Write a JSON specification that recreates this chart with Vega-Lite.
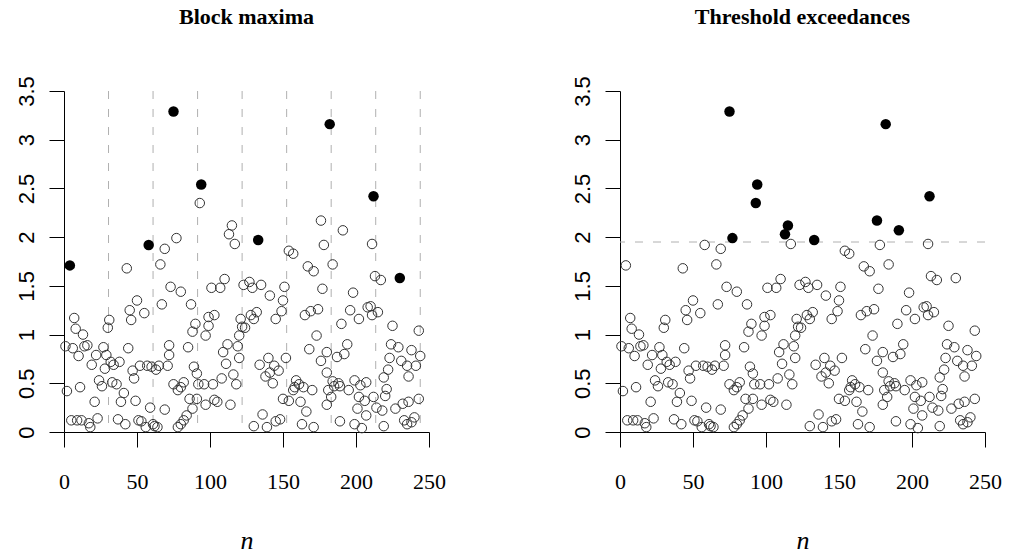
{
"$schema": "https://vega.github.io/schema/vega-lite/v6.json",
"padding": {"left": 15, "top": 5, "right": 5, "bottom": 5},
"datasets": {
"pts": [
{"n":1,"v":0.88,"bm":0},{"n":2,"v":0.42,"bm":0},{"n":4,"v":1.71,"bm":1},{"n":5,"v":0.12,"bm":0},{"n":6,"v":0.86,"bm":0},{"n":7,"v":1.17,"bm":0},{"n":8,"v":1.06,"bm":0},{"n":9,"v":0.12,"bm":0},{"n":10,"v":0.78,"bm":0},{"n":11,"v":0.46,"bm":0},{"n":12,"v":0.12,"bm":0},{"n":13,"v":1.0,"bm":0},{"n":14,"v":0.88,"bm":0},{"n":16,"v":0.89,"bm":0},{"n":17,"v":0.09,"bm":0},{"n":18,"v":0.05,"bm":0},{"n":19,"v":0.69,"bm":0},{"n":21,"v":0.31,"bm":0},{"n":22,"v":0.79,"bm":0},{"n":23,"v":0.14,"bm":0},{"n":24,"v":0.53,"bm":0},{"n":26,"v":0.47,"bm":0},{"n":27,"v":0.87,"bm":0},{"n":28,"v":0.65,"bm":0},{"n":29,"v":0.79,"bm":0},{"n":30,"v":1.07,"bm":0},
{"n":31,"v":1.15,"bm":0},{"n":32,"v":0.72,"bm":0},{"n":33,"v":0.51,"bm":0},{"n":34,"v":0.69,"bm":0},{"n":36,"v":0.49,"bm":0},{"n":37,"v":0.13,"bm":0},{"n":38,"v":0.72,"bm":0},{"n":39,"v":0.31,"bm":0},{"n":41,"v":0.40,"bm":0},{"n":42,"v":0.08,"bm":0},{"n":43,"v":1.68,"bm":0},{"n":44,"v":0.86,"bm":0},{"n":45,"v":1.25,"bm":0},{"n":46,"v":1.15,"bm":0},{"n":47,"v":0.63,"bm":0},{"n":48,"v":0.55,"bm":0},{"n":49,"v":0.32,"bm":0},{"n":50,"v":1.35,"bm":0},{"n":51,"v":0.12,"bm":0},{"n":52,"v":0.68,"bm":0},{"n":53,"v":0.11,"bm":0},{"n":55,"v":1.22,"bm":0},{"n":56,"v":0.05,"bm":0},{"n":57,"v":0.68,"bm":0},{"n":58,"v":1.92,"bm":1},{"n":59,"v":0.25,"bm":0},{"n":60,"v":0.67,"bm":0},{"n":61,"v":0.08,"bm":0},
{"n":62,"v":0.06,"bm":0},{"n":63,"v":0.64,"bm":0},{"n":64,"v":0.05,"bm":0},{"n":65,"v":0.68,"bm":0},{"n":66,"v":1.72,"bm":0},{"n":67,"v":1.31,"bm":0},{"n":69,"v":1.88,"bm":0},{"n":69,"v":0.23,"bm":0},{"n":71,"v":0.68,"bm":0},{"n":72,"v":0.79,"bm":0},{"n":72,"v":0.89,"bm":0},{"n":73,"v":1.49,"bm":0},{"n":75,"v":3.29,"bm":1},{"n":75,"v":0.49,"bm":0},{"n":77,"v":1.99,"bm":0},{"n":78,"v":0.43,"bm":0},{"n":78,"v":0.05,"bm":0},{"n":80,"v":1.44,"bm":0},{"n":80,"v":0.46,"bm":0},{"n":80,"v":0.08,"bm":0},{"n":82,"v":0.51,"bm":0},{"n":82,"v":0.12,"bm":0},{"n":84,"v":0.17,"bm":0},{"n":85,"v":0.87,"bm":0},{"n":86,"v":0.34,"bm":0},{"n":87,"v":1.31,"bm":0},{"n":88,"v":1.03,"bm":0},{"n":88,"v":0.24,"bm":0},{"n":89,"v":0.67,"bm":0},{"n":90,"v":1.11,"bm":0},{"n":91,"v":0.6,"bm":0},{"n":91,"v":0.34,"bm":0},
{"n":92,"v":0.49,"bm":0},{"n":93,"v":2.35,"bm":0},{"n":94,"v":2.54,"bm":1},{"n":96,"v":0.49,"bm":0},{"n":97,"v":0.99,"bm":0},{"n":97,"v":0.28,"bm":0},{"n":99,"v":1.09,"bm":0},{"n":99,"v":1.18,"bm":0},{"n":101,"v":1.48,"bm":0},{"n":102,"v":0.49,"bm":0},{"n":103,"v":1.2,"bm":0},{"n":103,"v":0.33,"bm":0},{"n":105,"v":0.31,"bm":0},{"n":107,"v":1.48,"bm":0},{"n":108,"v":0.55,"bm":0},{"n":109,"v":0.82,"bm":0},{"n":110,"v":1.57,"bm":0},{"n":111,"v":0.70,"bm":0},{"n":112,"v":0.9,"bm":0},{"n":113,"v":2.03,"bm":0},{"n":114,"v":0.28,"bm":0},{"n":115,"v":2.12,"bm":0},{"n":116,"v":0.59,"bm":0},{"n":117,"v":1.93,"bm":0},{"n":118,"v":0.49,"bm":0},{"n":119,"v":0.88,"bm":0},{"n":120,"v":0.99,"bm":0},{"n":120,"v":0.76,"bm":0},{"n":121,"v":1.16,"bm":0},{"n":122,"v":1.08,"bm":0},
{"n":123,"v":1.51,"bm":0},{"n":124,"v":1.07,"bm":0},{"n":127,"v":1.54,"bm":0},{"n":128,"v":1.2,"bm":0},{"n":129,"v":1.48,"bm":0},{"n":130,"v":1.16,"bm":0},{"n":130,"v":0.06,"bm":0},{"n":132,"v":1.23,"bm":0},{"n":133,"v":1.97,"bm":1},{"n":134,"v":0.69,"bm":0},{"n":135,"v":1.51,"bm":0},{"n":136,"v":0.18,"bm":0},{"n":138,"v":0.57,"bm":0},{"n":139,"v":0.05,"bm":0},{"n":140,"v":0.76,"bm":0},{"n":141,"v":0.61,"bm":0},{"n":141,"v":1.40,"bm":0},{"n":143,"v":0.50,"bm":0},{"n":144,"v":0.68,"bm":0},{"n":145,"v":1.16,"bm":0},{"n":145,"v":0.11,"bm":0},{"n":147,"v":0.63,"bm":0},{"n":148,"v":0.13,"bm":0},{"n":149,"v":1.24,"bm":0},{"n":150,"v":1.35,"bm":0},{"n":150,"v":0.34,"bm":0},{"n":151,"v":1.49,"bm":0},{"n":152,"v":0.76,"bm":0},
{"n":154,"v":1.86,"bm":0},{"n":157,"v":1.83,"bm":0},{"n":154,"v":0.32,"bm":0},{"n":157,"v":0.43,"bm":0},{"n":158,"v":0.46,"bm":0},{"n":159,"v":0.53,"bm":0},{"n":161,"v":0.49,"bm":0},{"n":162,"v":0.31,"bm":0},{"n":163,"v":0.08,"bm":0},{"n":164,"v":0.46,"bm":0},{"n":165,"v":1.20,"bm":0},{"n":166,"v":0.21,"bm":0},{"n":167,"v":1.70,"bm":0},{"n":168,"v":0.85,"bm":0},{"n":169,"v":1.24,"bm":0},{"n":170,"v":0.43,"bm":0},{"n":171,"v":1.65,"bm":0},{"n":171,"v":0.05,"bm":0},{"n":173,"v":0.99,"bm":0},{"n":174,"v":1.26,"bm":0},{"n":176,"v":2.17,"bm":0},{"n":176,"v":0.73,"bm":0},{"n":177,"v":1.47,"bm":0},{"n":178,"v":1.92,"bm":0},{"n":180,"v":0.82,"bm":0},{"n":180,"v":0.61,"bm":0},{"n":180,"v":0.28,"bm":0},{"n":181,"v":0.43,"bm":0},{"n":182,"v":3.16,"bm":1},{"n":183,"v":0.36,"bm":0},
{"n":184,"v":1.72,"bm":0},{"n":184,"v":0.52,"bm":0},{"n":185,"v":0.47,"bm":0},{"n":187,"v":0.77,"bm":0},{"n":188,"v":0.5,"bm":0},{"n":189,"v":0.47,"bm":0},{"n":189,"v":0.11,"bm":0},{"n":190,"v":1.11,"bm":0},{"n":191,"v":2.07,"bm":0},{"n":192,"v":0.8,"bm":0},{"n":194,"v":0.9,"bm":0},{"n":195,"v":0.43,"bm":0},{"n":196,"v":1.25,"bm":0},{"n":198,"v":1.43,"bm":0},{"n":199,"v":0.53,"bm":0},{"n":199,"v":0.08,"bm":0},{"n":201,"v":0.24,"bm":0},{"n":202,"v":1.16,"bm":0},{"n":202,"v":0.36,"bm":0},{"n":203,"v":0.48,"bm":0},{"n":204,"v":0.04,"bm":0},{"n":206,"v":0.32,"bm":0},{"n":207,"v":0.51,"bm":0},{"n":207,"v":0.17,"bm":0},{"n":208,"v":1.28,"bm":0},{"n":210,"v":1.29,"bm":0},{"n":211,"v":1.93,"bm":0},{"n":211,"v":1.2,"bm":0},{"n":212,"v":2.42,"bm":1},{"n":212,"v":0.36,"bm":0},{"n":213,"v":1.60,"bm":0},
{"n":214,"v":0.25,"bm":0},{"n":215,"v":1.23,"bm":0},{"n":217,"v":1.56,"bm":0},{"n":218,"v":0.22,"bm":0},{"n":219,"v":0.56,"bm":0},{"n":219,"v":0.06,"bm":0},{"n":220,"v":0.37,"bm":0},{"n":221,"v":0.44,"bm":0},{"n":222,"v":0.64,"bm":0},{"n":223,"v":0.76,"bm":0},{"n":224,"v":0.9,"bm":0},{"n":225,"v":1.09,"bm":0},{"n":227,"v":0.24,"bm":0},{"n":229,"v":0.87,"bm":0},{"n":230,"v":1.58,"bm":1},{"n":231,"v":0.73,"bm":0},{"n":232,"v":0.29,"bm":0},{"n":233,"v":0.12,"bm":0},{"n":235,"v":0.68,"bm":0},{"n":235,"v":0.08,"bm":0},{"n":236,"v":0.57,"bm":0},{"n":236,"v":0.31,"bm":0},{"n":238,"v":0.84,"bm":0},{"n":238,"v":0.1,"bm":0},{"n":240,"v":0.15,"bm":0},{"n":241,"v":0.68,"bm":0},{"n":243,"v":1.04,"bm":0},{"n":243,"v":0.34,"bm":0},{"n":244,"v":0.78,"bm":0}
],
"blocks": [{"b":30.5},{"b":61},{"b":91.5},{"b":122},{"b":152.5},{"b":183},{"b":213.5},{"b":244}],
"thr": [{"u":1.95}]
},
"spacing": 191,
"bounds": "flush",
"hconcat": [
{
"width": 365, "height": 341,
"title": {"text": "Block maxima"},
"layer": [
{"data": {"name": "blocks"}, "mark": {"type": "rule", "color": "#b0b0b0", "strokeDash": [8, 10], "strokeWidth": 1},
 "encoding": {"x": {"field": "b", "type": "quantitative", "scale": {"domain": [0, 250]}, "title": "n", "axis": {"values": [0, 50, 100, 150, 200, 250]}}}},
{"data": {"name": "pts"}, "transform": [{"filter": "datum.bm == 0"}],
 "mark": {"type": "point", "shape": "circle", "filled": false, "color": "#333333", "strokeWidth": 1, "size": 90, "opacity": 1},
 "encoding": {"x": {"field": "n", "type": "quantitative", "scale": {"domain": [0, 250]}, "title": "n", "axis": {"values": [0, 50, 100, 150, 200, 250]}},
              "y": {"field": "v", "type": "quantitative", "scale": {"domain": [0, 3.5]}, "title": null, "axis": {"values": [0, 0.5, 1, 1.5, 2, 2.5, 3, 3.5], "format": "~g"}}}},
{"data": {"name": "pts"}, "transform": [{"filter": "datum.bm == 1"}],
 "mark": {"type": "circle", "color": "#000000", "size": 110, "opacity": 1},
 "encoding": {"x": {"field": "n", "type": "quantitative", "scale": {"domain": [0, 250]}, "title": "n", "axis": {"values": [0, 50, 100, 150, 200, 250]}},
              "y": {"field": "v", "type": "quantitative", "scale": {"domain": [0, 3.5]}, "title": null, "axis": {"values": [0, 0.5, 1, 1.5, 2, 2.5, 3, 3.5], "format": "~g"}}}}
]
},
{
"width": 365, "height": 341,
"title": {"text": "Threshold exceedances"},
"layer": [
{"data": {"name": "thr"}, "mark": {"type": "rule", "color": "#b0b0b0", "strokeDash": [8, 10], "strokeWidth": 1},
 "encoding": {"y": {"field": "u", "type": "quantitative", "scale": {"domain": [0, 3.5]}, "title": null, "axis": {"values": [0, 0.5, 1, 1.5, 2, 2.5, 3, 3.5], "format": "~g"}}}},
{"data": {"name": "pts"}, "transform": [{"filter": "datum.v <= 1.95"}],
 "mark": {"type": "point", "shape": "circle", "filled": false, "color": "#333333", "strokeWidth": 1, "size": 90, "opacity": 1},
 "encoding": {"x": {"field": "n", "type": "quantitative", "scale": {"domain": [0, 250]}, "title": "n", "axis": {"values": [0, 50, 100, 150, 200, 250]}},
              "y": {"field": "v", "type": "quantitative", "scale": {"domain": [0, 3.5]}, "title": null, "axis": {"values": [0, 0.5, 1, 1.5, 2, 2.5, 3, 3.5], "format": "~g"}}}},
{"data": {"name": "pts"}, "transform": [{"filter": "datum.v > 1.95"}],
 "mark": {"type": "circle", "color": "#000000", "size": 110, "opacity": 1},
 "encoding": {"x": {"field": "n", "type": "quantitative", "scale": {"domain": [0, 250]}, "title": "n", "axis": {"values": [0, 50, 100, 150, 200, 250]}},
              "y": {"field": "v", "type": "quantitative", "scale": {"domain": [0, 3.5]}, "title": null, "axis": {"values": [0, 0.5, 1, 1.5, 2, 2.5, 3, 3.5], "format": "~g"}}}}
]
}
],
"config": {
"view": {"stroke": null},
"background": "#ffffff",
"title": {"font": "Liberation Serif", "fontSize": 22, "fontWeight": "bold", "color": "#000000", "anchor": "middle", "frame": "group", "baseline": "alphabetic", "offset": 47},
"axis": {"grid": false, "domainColor": "#000000", "tickColor": "#000000", "domainWidth": 1, "tickWidth": 1, "tickSize": 15, "labelColor": "#000000", "titleColor": "#000000", "labelOverlap": false, "labelFlush": false},
"axisX": {"labelFont": "Liberation Serif", "labelFontSize": 22, "labelPadding": 41, "labelBaseline": "alphabetic", "titleFont": "Liberation Serif", "titleFontStyle": "italic", "titleFontWeight": "normal", "titleFontSize": 26, "titleY": 116, "titleBaseline": "alphabetic"},
"axisY": {"labelFont": "Liberation Sans", "labelFontSize": 22, "labelAngle": -90, "labelAlign": "center", "labelBaseline": "alphabetic", "labelPadding": 16}
}
}
